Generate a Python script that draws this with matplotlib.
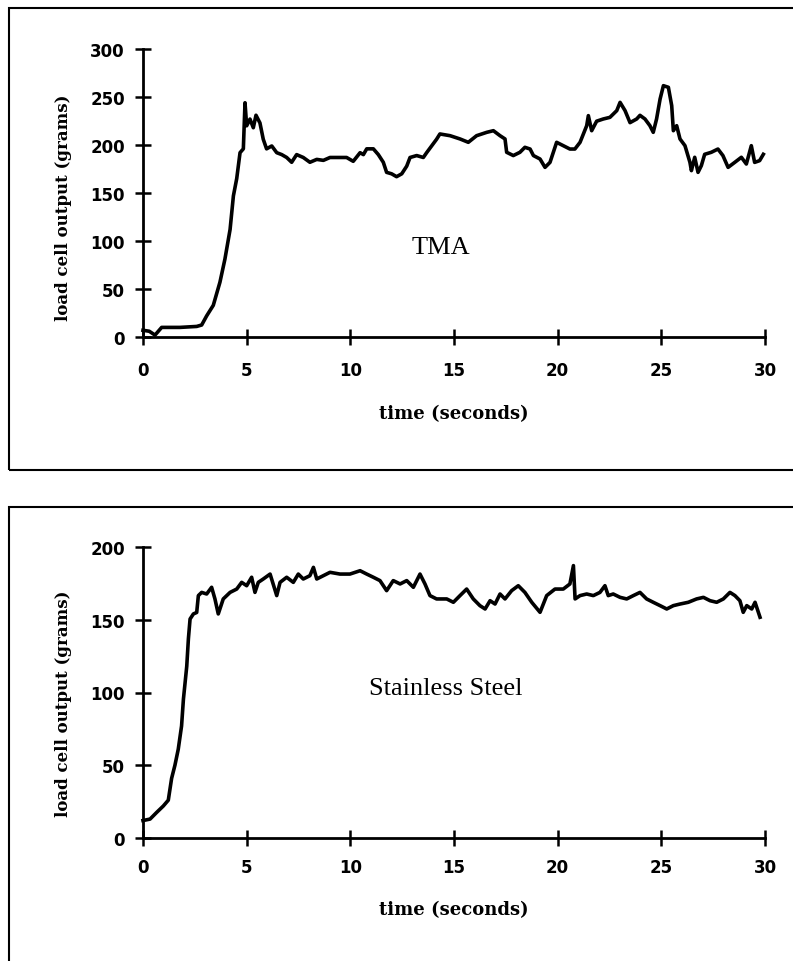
import matplotlib
matplotlib.use("Agg")
import matplotlib.pyplot as plt
from matplotlib.patches import Rectangle

# ---------------- data ----------------
tma_time = [0.0, 0.3, 0.58, 0.9, 1.78, 2.59, 2.83, 3.07, 3.39, 3.71, 3.95, 4.2, 4.36, 4.52,
            4.68, 4.84, 4.92, 5.0, 5.16, 5.32, 5.45, 5.64, 5.8, 5.96, 6.21, 6.45, 6.69, 6.93,
            7.17, 7.41, 7.73, 8.05, 8.38, 8.7, 9.02, 9.34, 9.82, 10.14, 10.47, 10.63, 10.79,
            11.11, 11.35, 11.59, 11.75, 11.99, 12.23, 12.48, 12.72, 12.88, 13.2, 13.52, 13.68,
            13.92, 14.16,
            14.32, 14.81, 15.29, 15.69, 16.09, 16.58, 16.9, 17.22, 17.46, 17.54, 17.86, 18.18,
            18.42, 18.67, 18.83, 19.15, 19.39, 19.63, 19.95, 20.27, 20.59, 20.83, 21.08, 21.4,
            21.48, 21.64, 21.88, 22.2, 22.52, 22.85, 23.01, 23.25, 23.49, 23.81, 23.97, 24.21,
            24.45, 24.61, 24.77, 24.94, 25.1, 25.34, 25.5, 25.58, 25.74, 25.9, 26.14, 26.38,
            26.45, 26.61, 26.77, 26.93, 27.09, 27.41, 27.73, 27.97, 28.22, 28.54, 28.86, 29.1,
            29.34, 29.5, 29.74, 29.92]
tma_load = [7, 6, 2, 10, 10, 11, 12.5, 22, 33, 57, 81, 112, 147, 165,
            192, 196, 244, 220, 227, 218, 231, 223, 206, 196, 199, 192, 190, 187,
            182, 190, 187, 182, 185, 184, 187, 187, 187, 183, 192, 190, 196,
            196, 190, 182, 171.5, 170, 167, 170, 178, 187, 189, 187, 192,
            199, 206,
            211.5, 209.7, 206.3, 202.8, 209.7, 213.2, 214.9, 209.7, 206.3, 192.4, 189, 192.4,
            197.6, 195.8, 189, 185.4, 176.7, 181.9, 202.8, 199.3, 195.8, 195.8, 202.8, 220.1,
            230.6, 214.9, 224.8, 227.1, 228.8, 235.8, 244.4, 235.8, 223.3, 227.1, 230.9, 227.1,
            220.1, 213.2, 227.1, 247.9, 261.8, 260.1, 241, 214.9, 220.1, 206.3, 199.3, 181.9,
            173.3, 187.2, 171.5, 178.5, 190.3, 192.4, 195.8, 189, 176.7, 181.9, 187.2, 180.2,
            199.3, 181.9, 183.7, 190.3]

ss_time = [0.0, 0.34, 0.66, 0.98, 1.22, 1.38, 1.54, 1.7, 1.86, 1.95, 2.11, 2.19, 2.27, 2.43,
           2.59, 2.67, 2.83, 3.07, 3.31, 3.47, 3.63, 3.87, 4.2, 4.52, 4.76, 5.0, 5.24, 5.4,
           5.56, 5.8, 6.13, 6.45, 6.61, 6.93, 7.25, 7.49, 7.73, 8.05, 8.22, 8.38, 8.7, 9.02,
           9.5, 9.98, 10.47, 10.79, 11.11, 11.43, 11.75, 12.07, 12.4, 12.72, 13.04, 13.36,
           13.6, 13.84, 14.16,
           14.65, 14.97, 15.29, 15.61, 15.93, 16.25, 16.5, 16.74, 16.98, 17.22, 17.46, 17.78,
           18.1, 18.42, 18.75, 19.15, 19.47, 19.87, 20.27, 20.59, 20.76, 20.84, 21.08, 21.4,
           21.72, 22.04, 22.28, 22.44, 22.68, 23.01, 23.33, 23.65, 23.97, 24.29, 24.61, 24.94,
           25.26, 25.58, 25.9, 26.3, 26.7, 27.03, 27.35, 27.67, 27.99, 28.31, 28.55, 28.79,
           28.95, 29.12, 29.36, 29.52, 29.76]
ss_load = [12, 13, 17.6, 22, 26, 41, 50, 61, 77, 95.5, 118, 137, 150.5, 154,
           155, 166.6, 168.8, 167.7, 172.3, 164.3, 154, 164.3, 168.8, 171.1, 175.7, 173.4, 179.2, 168.8,
           175.7, 178, 181.4, 166.6, 175.7, 179.2, 175.7, 181.4, 178, 180.3, 186, 178, 180.3, 182.6,
           181.4, 181.4, 183.7, 181.4, 179.2, 176.9, 170, 176.9, 174.6, 176.9, 172.3, 181.4,
           174.6, 166.6, 164.3,
           164.3, 162, 166.6, 171.1, 164.3, 159.7, 157.4, 163.1, 160.8, 167.7, 164.3, 170,
           173.4, 168.8, 162, 155.1, 166.6, 171.1, 171.1, 174.6, 187.2, 164.3, 166.6, 167.7,
           166.6, 168.8, 173.4, 166.6, 167.7, 165.4, 164.3, 166.6, 168.8, 164.3, 162, 159.7,
           157.4, 159.7, 160.8, 162, 164.3, 165.4, 163.1, 162, 164.3, 168.8, 166.6, 163.1,
           155.1, 159.7, 157.4, 162, 151.7]

x_ticks = [0, 5, 10, 15, 20, 25, 30]
tma_yticks = [0, 50, 100, 150, 200, 250, 300]
ss_yticks = [0, 50, 100, 150, 200]
xlabel_text = "time (seconds)"
ylabel_text = "load cell output (grams)"
tma_name = "TMA"
ss_name = "Stainless Steel"

# ---------------- figure ----------------
W, H = 793, 962
fig = plt.figure(figsize=(W / 100, H / 100), dpi=100)
fig.patch.set_facecolor("white")

# panel frames
fig.patches.append(Rectangle((9 / W, 1 - 471 / H), 1.0, (471 - 9) / H,
                             transform=fig.transFigure, fill=False,
                             edgecolor="black", linewidth=1.5, clip_on=False))
fig.patches.append(Rectangle((9 / W, -0.05), 1.0, 1 - 508 / H + 0.05,
                             transform=fig.transFigure, fill=False,
                             edgecolor="black", linewidth=1.5, clip_on=False))

ax1 = fig.add_axes([143 / W, 1 - 338 / H, 622 / W, 288 / H])
ax2 = fig.add_axes([143 / W, 1 - 839 / H, 622 / W, 291 / H])

tick_font = {"family": "DejaVu Sans", "weight": "bold", "size": 12}
label_font_x = {"family": "DejaVu Serif", "weight": "bold", "size": 13}
label_font_y = {"family": "DejaVu Serif", "weight": "bold", "size": 12}


def style(ax, times, loads, yticks, ymax, xpad, xlab_y, ylab_y, name, name_xy):
    ax.plot(times, loads, color="black", linewidth=2.6, solid_joinstyle="round",
            clip_on=False)
    ax.set_xlim(0, 30)
    ax.set_ylim(0, ymax)
    ax.set_xticks(x_ticks)
    ax.set_yticks(yticks)
    ax.set_xticklabels([str(v) for v in x_ticks], fontdict=tick_font)
    ax.set_yticklabels([str(v) for v in yticks], fontdict=tick_font)
    for s in ("top", "right"):
        ax.spines[s].set_visible(False)
    for s in ("left", "bottom"):
        ax.spines[s].set_linewidth(2.0)
    ax.tick_params(axis="both", direction="inout", length=11, width=1.8, color="black")
    ax.tick_params(axis="x", pad=xpad)
    ax.tick_params(axis="y", pad=7.5)
    ax.set_xlabel(xlabel_text, fontdict=label_font_x)
    ax.set_ylabel(ylabel_text, fontdict=label_font_y)
    ax.xaxis.set_label_coords(0.5, xlab_y)
    ax.yaxis.set_label_coords(-0.114, ylab_y)
    ax.text(name_xy[0], name_xy[1], name, transform=ax.transAxes, ha="center",
            va="center", family="Liberation Serif", fontsize=19)
    ax.set_facecolor("none")


style(ax1, tma_time, tma_load, tma_yticks, 300, 11.5, -0.233, 0.451, tma_name, (0.479, 0.314))
style(ax2, ss_time, ss_load, ss_yticks, 200, 8.6, -0.215, 0.464, ss_name, (0.487, 0.515))

fig.savefig("out.png", dpi=100, facecolor="white")
